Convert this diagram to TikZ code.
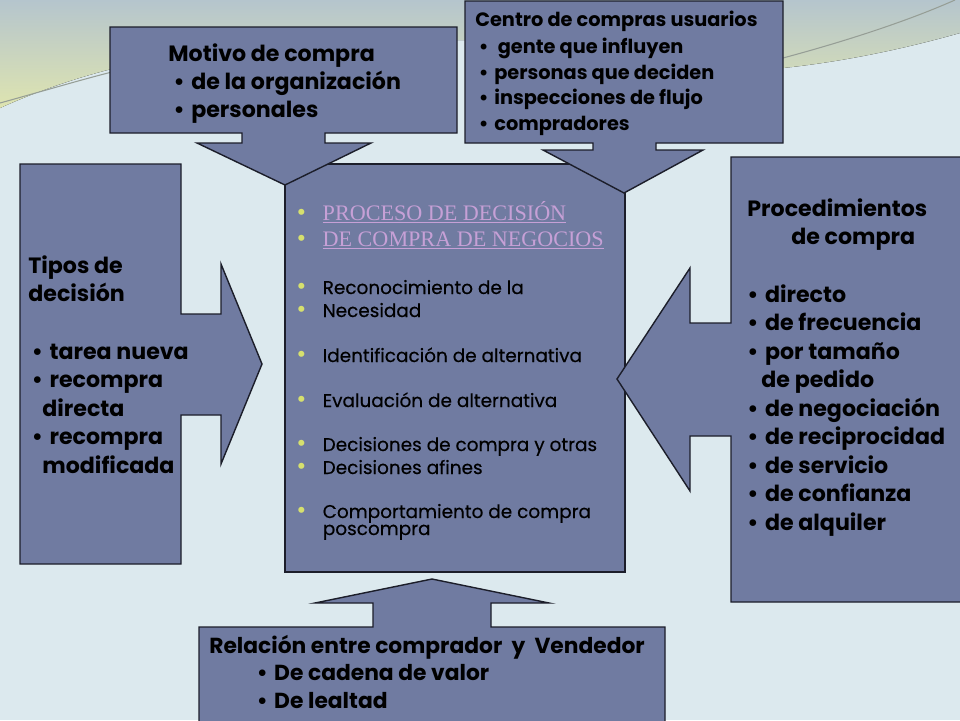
\documentclass[tikz,border=0pt]{standalone}
\usepackage{fontspec}
\setmainfont{Poppins}
\newfontfamily\titlefont{Liberation Serif}
\newfontfamily\medfont[FakeBold=0.4]{Poppins}
\usepackage{xcolor}

\definecolor{boxfill}{RGB}{112,123,161}
\definecolor{boxline}{RGB}{28,30,42}
\definecolor{bgcol}{RGB}{220,233,238}
\definecolor{bandtop}{RGB}{181,197,205}
\definecolor{bandlow}{RGB}{222,228,176}
\definecolor{swooshcol}{RGB}{150,158,150}
\definecolor{bulc}{RGB}{214,224,110}
\definecolor{titlec}{RGB}{198,160,214}

\newcommand{\bul}{\makebox[0.8em][l]{\textbullet}}
\newcommand{\ybul}{\makebox[15pt][l]{\smash{\rmfamily\mdseries\fontsize{14}{14}\selectfont\textcolor{bulc}{\textbullet}}}}

\begin{document}
\begin{tikzpicture}[
    x=0.02cm, y=-0.02cm,
    callout/.style={fill=boxfill, draw=boxline, line width=0.8pt, line join=miter},
    swoosh/.style={draw=swooshcol, line width=0.6pt},
    % multi-line nodes sit on the baseline of their last line
    boxtext/.style={anchor=base west, align=left, inner sep=0pt, font=\bfseries\fontsize{12.6}{16.2}\selectfont},
    smalltext/.style={anchor=base west, align=left, inner sep=0pt, font=\bfseries\fontsize{11}{14.5}\selectfont},
    listitem/.style={anchor=base west, inner sep=0pt, font=\medfont\fontsize{10.5}{12}\selectfont},
    headtext/.style={anchor=base west, inner sep=0pt, text=titlec, font=\titlefont\fontsize{12.6}{14}\selectfont}
]
\clip (0,0) rectangle (960,720);

% Background
\fill[bgcol] (0,0) rectangle (960,720);
\fill[top color=bandtop, bottom color=bandlow] (0,0) -- (960,0) -- (960,33)
    .. controls (900,50) and (840,62) .. (783,68)
    .. controls (650,80) and (560,40) .. (460,40)
    .. controls (300,40) and (150,40) .. (0,108) -- cycle;
\draw[swoosh] (0,103) .. controls (40,92) and (80,80) .. (112,72);
\draw[swoosh] (783,58) .. controls (850,40) and (910,20) .. (955,0);

% Central box
\draw[callout] (285,164) rectangle (625,572);

% Callouts
\draw[callout] (110,27) -- (457,27) -- (457,133) -- (325,133) -- (325,143) -- (371,143)
    -- (285,185) -- (197,143) -- (242,143) -- (242,133) -- (110,133) -- cycle;
\draw[callout] (465,1) -- (783,1) -- (783,143) -- (656,143) -- (656,150) -- (703,150)
    -- (624,193) -- (543,150) -- (593,150) -- (593,143) -- (465,143) -- cycle;
\draw[callout] (20,164) -- (181,164) -- (181,314) -- (221,314) -- (221,264) -- (262,364)
    -- (221,464) -- (221,415) -- (181,415) -- (181,564) -- (20,564) -- cycle;
\draw[callout] (731,157) -- (966,157) -- (966,602) -- (731,602) -- (731,436) -- (690,436)
    -- (690,491) -- (617,379) -- (690,268) -- (690,323) -- (731,323) -- cycle;
\draw[callout] (199,627) -- (373,627) -- (373,603) -- (315,603) -- (432,579) -- (549,603)
    -- (491,603) -- (491,627) -- (665,627) -- (665,726) -- (199,726) -- cycle;

% Texts
\node[boxtext, font=\bfseries\fontsize{12.6}{15.9}\selectfont] (motivo) at (168,117) {Motivo de compra\\
    \hspace*{3pt}\bul de la organización\\
    \hspace*{3pt}\bul personales};
\node[smalltext] (centro) at (475,130) {Centro de compras usuarios\\[1pt]
    \hspace*{2pt}\bul\hspace*{2pt}gente que influyen\\
    \hspace*{2pt}\bul personas que deciden\\
    \hspace*{2pt}\bul inspecciones de flujo\\
    \hspace*{2pt}\bul compradores};
\node[boxtext] (tipos) at (28,473) {Tipos de\\ decisión\\[16.5pt]
    \hspace*{2pt}\bul tarea nueva\\
    \hspace*{2pt}\bul recompra\\
    \hspace*{8pt}directa\\
    \hspace*{2pt}\bul recompra\\
    \hspace*{8pt}modificada};
\node[boxtext] (proced) at (747,530) {Procedimientos\\
    \hspace*{25pt}de compra\\[16.5pt]
    \bul directo\\
    \bul de frecuencia\\
    \bul por tamaño\\
    \hspace*{8pt}de pedido\\
    \bul de negociación\\
    \bul de reciprocidad\\
    \bul de servicio\\
    \bul de confianza\\
    \bul de alquiler};
\node[boxtext, font=\bfseries\fontsize{12.4}{15.6}\selectfont] (relacion) at (209,708) {Relación entre comprador\ \ y\ \ Vendedor\\
    \hspace*{27pt}\bul De cadena de valor\\
    \hspace*{27pt}\bul De lealtad};

% Central list
\node[headtext] (titulo1) at (296,220) {\ybul\underline{PROCESO DE DECISIÓN}};
\node[headtext] (titulo2) at (296,246) {\ybul\underline{DE COMPRA DE NEGOCIOS}};
\node[listitem] (paso1) at (296,294) {\ybul Reconocimiento de la};
\node[listitem] (paso1b) at (296,317) {\ybul Necesidad};
\node[listitem] (paso2) at (296,362) {\ybul Identificación de alternativa};
\node[listitem] (paso3) at (296,407) {\ybul Evaluación de alternativa};
\node[listitem] (paso4) at (296,451) {\ybul Decisiones de compra y otras};
\node[listitem] (paso4b) at (296,474) {\ybul Decisiones afines};
\node[listitem] (paso5) at (296,518) {\ybul Comportamiento de compra};
\node[listitem] (paso5b) at (322.5,535) {poscompra};

\end{tikzpicture}
\end{document}
